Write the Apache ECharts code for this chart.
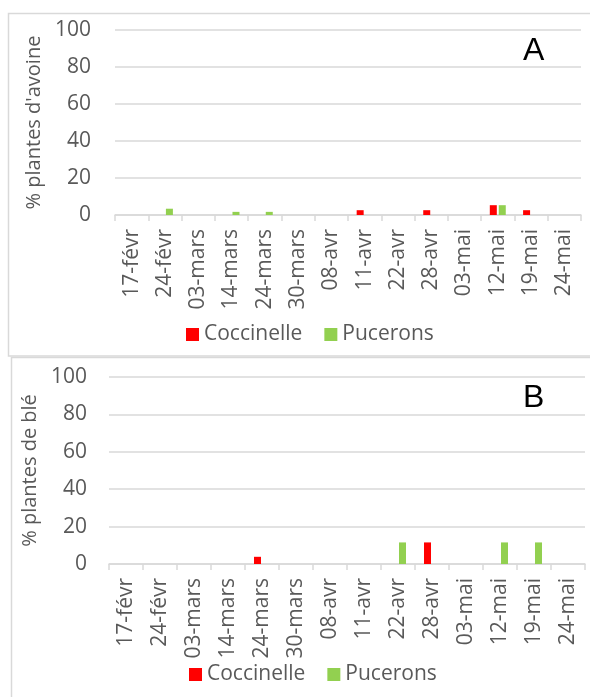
<!DOCTYPE html>
<html><head><meta charset="utf-8">
<script src="https://cdn.jsdelivr.net/npm/echarts@6/dist/echarts.min.js"></script>
<style>html,body{margin:0;padding:0;background:#fff}#c{width:590px;height:697px}</style>
</head><body><div id="c"></div>
<script>
const categories = ['17-févr','24-févr','03-mars','14-mars','24-mars','30-mars','08-avr','11-avr','22-avr','28-avr','03-mai','12-mai','19-mai','24-mai'];
const seriesNames = ['Coccinelle','Pucerons'];
// Panel A: oat (avoine)
const avoineCoccinelle = [0,0,0,0,0,0,0,2.6,0,2.6,0,5.3,2.6,0];
const avoinePucerons   = [0,3.4,0,1.7,1.7,0,0,0,0,0,0,5.3,0,0];
// Panel B: wheat (blé)
const bleCoccinelle = [0,0,0,0,3.85,0,0,0,0,11.54,0,0,0,0];
const blePucerons   = [0,0,0,0,0,0,0,0,11.54,0,0,11.54,11.54,0];
const yTicks = {min:0, max:100, interval:20};
const panelLetters = ['A','B'];
const yTitles = ["% plantes d'avoine", '% plantes de blé'];

const FONT = 'Open Sans';
const GREY = '#595959';
const LINE = '#d9d9d9';
const colors = ['#FF0000','#92D050'];

const grids = [
  {left:115, right:9, top:30, height:185},
  {left:109, right:5, top:377, height:187}
];
const xAxes = grids.map((g,i)=>({
  type:'category', gridIndex:i, data:categories,
  axisLine:{lineStyle:{color:LINE,width:1.5}},
  axisTick:{show:true,length:6,lineStyle:{color:LINE,width:1.5}},
  axisLabel:{rotate:90,margin:14,color:GREY,fontSize:21,fontFamily:FONT}
}));
const yAxes = grids.map((g,i)=>({
  type:'value', gridIndex:i, min:yTicks.min, max:yTicks.max, interval:yTicks.interval,
  name:yTitles[i], nameLocation:'middle', nameGap:i===0?70:62,
  nameTextStyle:{color:GREY,fontSize:20,fontFamily:FONT},
  axisLine:{show:false}, axisTick:{show:false},
  axisLabel:{margin:i===0?24:22,color:GREY,fontSize:21,fontFamily:FONT},
  splitLine:{lineStyle:{color:LINE,width:1.5}}
}));
const data = [[avoineCoccinelle,avoinePucerons],[bleCoccinelle,blePucerons]];
const series = [];
data.forEach((pair,gi)=>{
  pair.forEach((vals,si)=>{
    series.push({type:'bar',name:seriesNames[si],xAxisIndex:gi,yAxisIndex:gi,
      data:vals,barWidth:7,barGap:'28%',itemStyle:{color:colors[si]}});
  });
});
const legendCommon = {data:seriesNames, icon:'rect', itemWidth:13, itemHeight:13, itemGap:22,
  textStyle:{color:GREY,fontSize:21,fontFamily:FONT}, selectedMode:false};
const option = {
  animation:false,
  grid:grids,
  xAxis:xAxes, yAxis:yAxes, series:series,
  legend:[Object.assign({left:181, top:319}, legendCommon),
          Object.assign({left:184, top:659}, legendCommon)],
  graphic:[
    {type:'rect', shape:{x:8.5,y:13.5,width:600,height:342.5}, style:{fill:'none',stroke:LINE,lineWidth:1.5}, z:-1},
    {type:'rect', shape:{x:11.5,y:357.5,width:600,height:400}, style:{fill:'none',stroke:LINE,lineWidth:1.5}, z:-1},
    {type:'text', left:523, top:35, style:{text:panelLetters[0], fontSize:32, fontFamily:'Liberation Sans', fill:'#000'}},
    {type:'text', left:523, top:382, style:{text:panelLetters[1], fontSize:32, fontFamily:'Liberation Sans', fill:'#000'}}
  ]
};
echarts.init(document.getElementById('c'),null,{renderer:'canvas'}).setOption(option);
</script></body></html>
